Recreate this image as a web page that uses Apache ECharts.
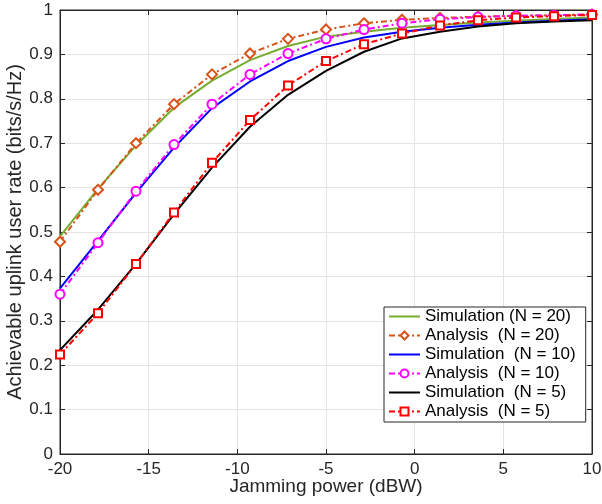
<!DOCTYPE html>
<html>
<head>
<meta charset="utf-8">
<script src="https://cdn.jsdelivr.net/npm/echarts@6/dist/echarts.min.js"></script>
<style>
  html, body { margin: 0; padding: 0; background: #fff; }
  #chart { width: 602px; height: 504px; }
</style>
</head>
<body>
<div id="chart"></div>
<script>
// jamming power points (dBW)
var powerDbw = [-20, -17.857, -15.714, -13.571, -11.429, -9.286, -7.143, -5, -2.857, -0.714, 1.429, 3.571, 5.714, 7.857, 10];

var simN20 = [0.490, 0.597, 0.695, 0.780, 0.841, 0.887, 0.919, 0.940, 0.951, 0.960, 0.966, 0.972, 0.976, 0.980, 0.983];
var anaN20 = [0.478, 0.595, 0.700, 0.788, 0.855, 0.902, 0.935, 0.956, 0.970, 0.978, 0.982, 0.985, 0.987, 0.988, 0.990];
var simN10 = [0.373, 0.480, 0.588, 0.690, 0.779, 0.839, 0.885, 0.917, 0.938, 0.951, 0.960, 0.967, 0.972, 0.976, 0.979];
var anaN10 = [0.360, 0.476, 0.592, 0.697, 0.788, 0.855, 0.902, 0.935, 0.956, 0.970, 0.979, 0.984, 0.987, 0.988, 0.990];
var simN5  = [0.234, 0.325, 0.428, 0.540, 0.645, 0.737, 0.809, 0.863, 0.906, 0.936, 0.951, 0.963, 0.970, 0.974, 0.977];
var anaN5  = [0.224, 0.317, 0.428, 0.544, 0.656, 0.752, 0.830, 0.885, 0.923, 0.947, 0.965, 0.977, 0.983, 0.986, 0.989];

var seriesNames = ['Simulation (N = 20)', 'Analysis  (N = 20)', 'Simulation  (N = 10)',
                   'Analysis  (N = 10)', 'Simulation  (N = 5)', 'Analysis  (N = 5)'];

var font = 'Liberation Sans, Arial, Helvetica, sans-serif';
var axisColor = '#262626';
var dashDot = [6, 3, 2, 3];

function pairs(ys){
    var out = [];
    for (var i = 0; i < powerDbw.length; i++) {
        out.push([powerDbw[i], ys[i]]);
    }
    return out;
}

function simLine(name, ys, color){
    return {
        name: name,
        type: 'line',
        data: pairs(ys),
        symbol: 'none',
        lineStyle: { color: color, width: 2 },
        itemStyle: { color: color },
        z: 2
    };
}

function anaLine(name, ys, color, symbol, size){
    return {
        name: name,
        type: 'line',
        data: pairs(ys),
        symbol: symbol,
        symbolSize: size,
        lineStyle: { color: color, width: 2, type: dashDot },
        itemStyle: { color: '#fff', borderColor: color, borderWidth: 2 },
        z: 3
    };
}

// legend entries; simulation ones show only the line
var legendData = seriesNames.map(function(n, i){
    if (i % 2 == 0) {
        return { name: n, itemStyle: { opacity: 0 } };
    }
    return { name: n };
});

function sideAxis(pos, min, max, interval){
    return {
        type: 'value', min: min, max: max, interval: interval, position: pos,
        axisLine: { show: true, onZero: false, lineStyle: { color: axisColor } },
        axisTick: { show: true, inside: true, length: 5, lineStyle: { color: axisColor } },
        axisLabel: { show: false },
        splitLine: { show: false }
    };
}

var chart = echarts.init(document.getElementById('chart'));

var option = {
    animation: false,
    grid: {
        left: 60, right: 10, top: 10, bottom: 50,
        containLabel: false, outerBoundsMode: 'none',
        show: true, borderColor: axisColor, borderWidth: 1, backgroundColor: '#fff'
    },
    legend: {
        left: 384, top: 307,
        orient: 'vertical',
        backgroundColor: '#fff',
        borderColor: axisColor, borderWidth: 1,
        borderRadius: 0,
        padding: [1, 10, 2, 4],
        itemWidth: 31, itemHeight: 10, itemGap: 2,
        textStyle: { fontFamily: font, fontSize: 17, lineHeight: 17, color: '#000' },
        data: legendData
    },
    xAxis: [{
        type: 'value', min: -20, max: 10, interval: 5,
        name: 'Jamming power (dBW)', nameLocation: 'middle', nameGap: 23,
        nameMoveOverlap: false,
        nameTextStyle: { fontFamily: font, fontSize: 19, color: axisColor },
        axisLine: { show: true, onZero: false, lineStyle: { color: axisColor } },
        axisTick: { show: true, inside: true, length: 5, lineStyle: { color: axisColor } },
        axisLabel: { fontFamily: font, fontSize: 17, color: axisColor, margin: 7 },
        splitLine: { show: true, lineStyle: { color: '#e3e3e3', width: 1 } }
    }, sideAxis('top', -20, 10, 5)],
    yAxis: [{
        type: 'value', min: 0, max: 1, interval: 0.1,
        name: 'Achievable uplink user rate (bits/s/Hz)', nameLocation: 'middle', nameGap: 35,
        nameMoveOverlap: false,
        nameTextStyle: { fontFamily: font, fontSize: 20, color: axisColor },
        axisLine: { show: true, onZero: false, lineStyle: { color: axisColor } },
        axisTick: { show: true, inside: true, length: 5, lineStyle: { color: axisColor } },
        axisLabel: { fontFamily: font, fontSize: 17, color: axisColor, margin: 7 },
        splitLine: { show: true, lineStyle: { color: '#e3e3e3', width: 1 } }
    }, sideAxis('right', 0, 1, 0.1)],
    series: [
        simLine(seriesNames[0], simN20, '#77AC30'),
        anaLine(seriesNames[1], anaN20, '#D95319', 'diamond', 10),
        simLine(seriesNames[2], simN10, '#0000FF'),
        anaLine(seriesNames[3], anaN10, '#FF00FF', 'circle', 9),
        simLine(seriesNames[4], simN5, '#000000'),
        anaLine(seriesNames[5], anaN5, '#FF0000', 'rect', 8)
    ]
};

chart.setOption(option);
</script>
</body>
</html>
